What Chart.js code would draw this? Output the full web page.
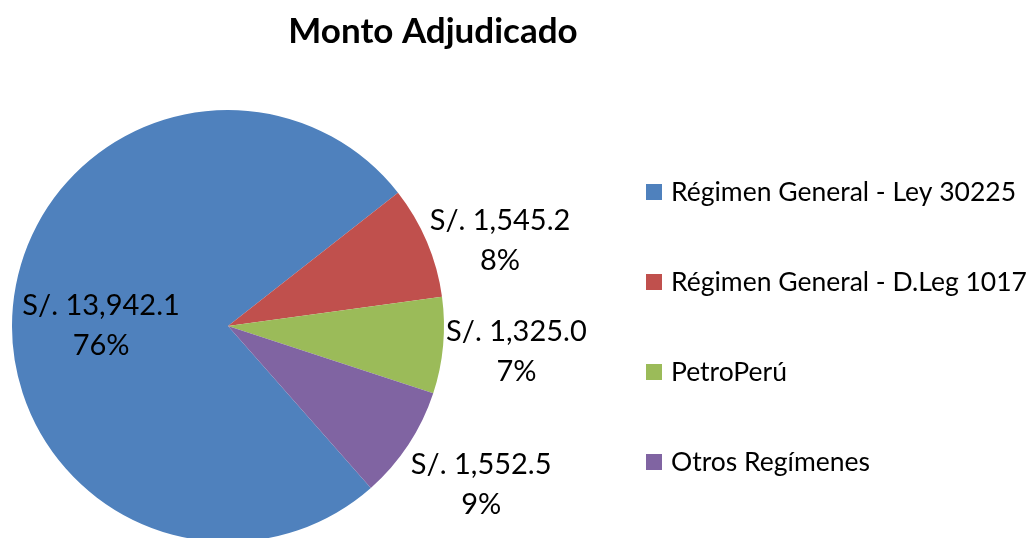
<!DOCTYPE html>
<html>
<head>
<meta charset="utf-8">
<script src="https://cdn.jsdelivr.net/npm/chart.js@4/dist/chart.umd.min.js"></script>
<style>
html,body{margin:0;padding:0;background:#fff;overflow:hidden;}
#wrap{width:1028px;height:544px;}
</style>
</head>
<body>
<div id="wrap"><canvas id="c" width="1028" height="544"></canvas></div>
<script>
const chartTitle = 'Monto Adjudicado';
const categories = ['Régimen General - Ley 30225', 'Régimen General - D.Leg 1017', 'PetroPerú', 'Otros Regímenes'];
const values = [13942.1, 1545.2, 1325.0, 1552.5];
const percentLabels = ['76%', '8%', '7%', '9%'];
const currencyPrefix = 'S/. ';
const colors = ['#4F81BD', '#C0504D', '#9BBB59', '#8064A2'];

const FONT = 'Lato, "Open Sans", sans-serif';
const fmt = v => v.toLocaleString('en-US', {minimumFractionDigits: 1, maximumFractionDigits: 1});

const sliceLabels = {
  id: 'sliceLabels',
  afterDatasetsDraw(chart) {
    const ctx = chart.ctx;
    const meta = chart.getDatasetMeta(0);
    const ds = chart.data.datasets[0].data;
    const total = ds.reduce((a, b) => a + b, 0);
    const lh = 40;
    ctx.save();
    ctx.font = '29px ' + FONT;
    ctx.fillStyle = '#000';
    ctx.textAlign = 'center';
    ctx.textBaseline = 'middle';
    meta.data.forEach((arc, i) => {
      const p = arc.getProps(['x', 'y', 'startAngle', 'endAngle', 'outerRadius'], true);
      const mid = (p.startAngle + p.endAngle) / 2;
      const c = Math.cos(mid), s = Math.sin(mid);
      const lines = [currencyPrefix + fmt(ds[i]), percentLabels[i]];
      const w = Math.max(...lines.map(l => ctx.measureText(l).width));
      let cx, cy;
      if (ds[i] / total > 0.5) {
        cx = p.x + c * p.outerRadius * 0.59;
        cy = p.y;
      } else {
        const ax = p.x + c * (p.outerRadius + 3);
        const ay = p.y + s * (p.outerRadius + 3);
        cx = c >= 0 ? ax + w / 2 : ax - w / 2;
        cy = ay + Math.max(0, s) * lh * 1.75;
      }
      ctx.fillText(lines[0], cx, cy - lh / 2);
      ctx.fillText(lines[1], cx, cy + lh / 2);
    });
    ctx.restore();
  }
};

const titleAndLegend = {
  id: 'titleAndLegend',
  afterDraw(chart) {
    const ctx = chart.ctx;
    ctx.save();
    ctx.font = 'bold 35px ' + FONT;
    ctx.fillStyle = '#000';
    ctx.textAlign = 'center';
    ctx.textBaseline = 'alphabetic';
    ctx.fillText(chartTitle, 433, 43);
    const bg = chart.data.datasets[0].backgroundColor;
    ctx.font = '26.5px ' + FONT;
    ctx.textAlign = 'left';
    ctx.textBaseline = 'middle';
    chart.data.labels.forEach((lab, i) => {
      const cy = 192 + i * 90;
      ctx.fillStyle = bg[i];
      ctx.fillRect(646, cy - 8, 16, 16);
      ctx.fillStyle = '#000';
      ctx.fillText(lab, 671, cy);
    });
    ctx.restore();
  }
};

function draw() {
  new Chart(document.getElementById('c'), {
    type: 'pie',
    data: {
      labels: categories,
      datasets: [{
        data: values,
        backgroundColor: colors,
        borderWidth: 0
      }]
    },
    options: {
      responsive: false,
      animation: false,
      rotation: 138.6,
      layout: {padding: {left: 12, right: 584, top: 110, bottom: 2}},
      plugins: {
        legend: {display: false},
        title: {display: false},
        tooltip: {enabled: false}
      }
    },
    plugins: [sliceLabels, titleAndLegend]
  });
}

if (document.fonts && document.fonts.load) {
  Promise.all([document.fonts.load('29px Lato'), document.fonts.load('bold 35px Lato')]).then(draw, draw);
} else {
  draw();
}
</script>
</body>
</html>
